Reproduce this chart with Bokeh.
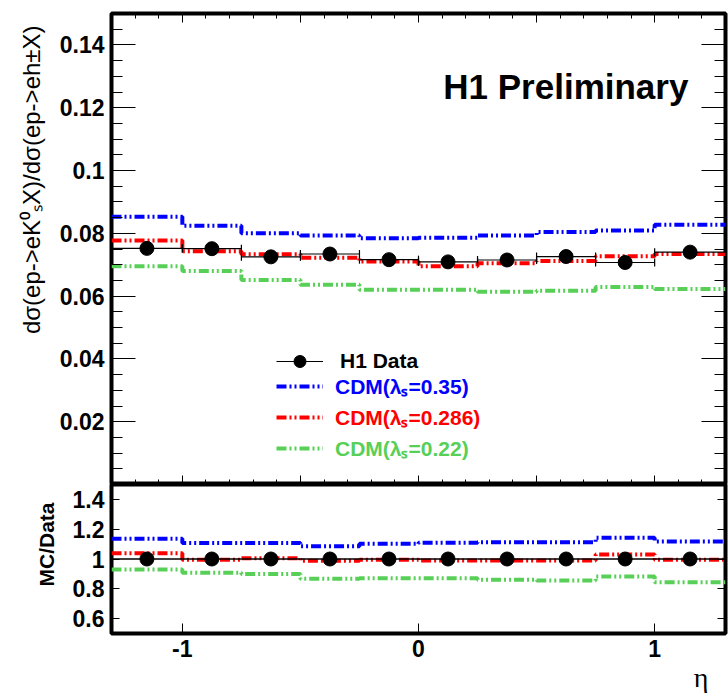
import math
from bokeh.plotting import figure
from bokeh.models import FixedTicker, LinearAxis, Label, Legend, LegendItem, Title
from bokeh.layouts import column
from bokeh.embed import file_html
from bokeh.resources import INLINE

# ---------------- data ----------------
bin_edges = [-1.3, -1.0, -0.75, -0.5, -0.25, 0.0, 0.25, 0.5, 0.75, 1.0, 1.3]
eta_centers = [-1.15, -0.875, -0.625, -0.375, -0.125, 0.125, 0.375, 0.625, 0.875, 1.15]

h1_data = [0.0752, 0.0751, 0.0725, 0.0734, 0.0716, 0.0709, 0.0715, 0.0726, 0.0707, 0.0740]
cdm_035 = [0.0853, 0.0824, 0.0800, 0.0793, 0.0784, 0.0786, 0.0793, 0.0804, 0.0809, 0.0827]
cdm_0286 = [0.0777, 0.0743, 0.0733, 0.0722, 0.0710, 0.0695, 0.0705, 0.0712, 0.0727, 0.0734]
cdm_022 = [0.0695, 0.0680, 0.0651, 0.0636, 0.0620, 0.0620, 0.0614, 0.0617, 0.0629, 0.0623]

ratio_data = [1.0, 1.0, 1.0, 1.0, 1.0, 1.0, 1.0, 1.0, 1.0, 1.0]
ratio_035 = [1.136, 1.107, 1.107, 1.086, 1.102, 1.109, 1.113, 1.113, 1.143, 1.118]
ratio_0286 = [1.039, 0.995, 1.005, 0.988, 0.995, 0.990, 0.990, 0.990, 1.030, 0.995]
ratio_022 = [0.929, 0.907, 0.900, 0.867, 0.871, 0.871, 0.860, 0.855, 0.882, 0.844]

top_yticks = [0.02, 0.04, 0.06, 0.08, 0.1, 0.12, 0.14]
top_ytick_labels = ["0.02", "0.04", "0.06", "0.08", "0.1", "0.12", "0.14"]
top_yminor = [0.005 * i for i in range(1, 30)]
top_xticks = [-1.0, -0.5, 0.0, 0.5, 1.0]
top_xminor = [round(-1.2 + 0.1 * i, 2) for i in range(25)]
ratio_yticks = [0.6, 0.8, 1.0, 1.2, 1.4]
ratio_ytick_labels = ["0.6", "0.8", "1", "1.2", "1.4"]
ratio_xticks = [-1.0, 0.0, 1.0]
ratio_xtick_labels = ["-1", "0", "1"]

legend_labels = ["H1 Data", "CDM(λₛ=0.35)", "CDM(λₛ=0.286)", "CDM(λₛ=0.22)"]
y_title_top = "dσ(ep->eK⁰ₛX)/dσ(ep->eh±X)"
y_title_ratio = "MC/Data"
x_title = "η"

# ---------------- style ----------------
FONT = "Liberation Sans"
BLUE = "#0000ff"
RED = "#ff0000"
GREEN = "#58d058"
DASH = "10 3 2 3 2 3"
LW = 4

lo = bin_edges[:-1]
hi = bin_edges[1:]


def style_axis(ax, ticks, minor, labels=None, tin=24, minor_in=11, show=True, size="22px"):
    ax.ticker = FixedTicker(ticks=ticks, minor_ticks=minor)
    ax.major_tick_in = tin
    ax.major_tick_out = 0
    ax.minor_tick_in = minor_in
    ax.minor_tick_out = 0
    ax.major_tick_line_color = "black"
    ax.minor_tick_line_color = "black"
    ax.major_tick_line_width = 1
    ax.axis_line_color = None
    if show:
        ax.major_label_text_font = FONT
        ax.major_label_text_font_style = "bold"
        ax.major_label_text_font_size = size
        ax.major_label_text_color = "black"
        if labels is not None:
            ax.major_label_overrides = {t: l for t, l in zip(ticks, labels)}
    else:
        ax.major_label_overrides = {t: "" for t in ticks}
        ax.major_label_text_font_size = "0px"
        ax.major_label_standoff = 0


def steps(vals):
    return vals + [vals[-1]]


# ---------------- top panel ----------------
top = figure(width=728, height=484, x_range=(-1.3, 1.3), y_range=(0.0, 0.15),
             output_backend="svg", toolbar_location=None,
             min_border_left=111, min_border_right=3, min_border_top=13, min_border_bottom=0)
top.xgrid.visible = False
top.ygrid.visible = False
top.outline_line_color = "black"
top.outline_line_width = 4
top.background_fill_color = "white"
top.border_fill_color = "white"

style_axis(top.yaxis[0], top_yticks, top_yminor, top_ytick_labels, tin=24, minor_in=11, size="23px")
top.yaxis[0].major_label_standoff = 7
top.add_layout(LinearAxis(), "right")
style_axis(top.right[0], top_yticks, top_yminor, tin=24, minor_in=11, show=False)
style_axis(top.xaxis[0], top_xticks, top_xminor, tin=9, minor_in=5, show=False)
top.add_layout(LinearAxis(), "above")
style_axis(top.above[0], top_xticks, top_xminor, tin=9, minor_in=5, show=False)

r_b = top.step(x=bin_edges, y=steps(cdm_035), mode="after", line_color=BLUE, line_width=LW, line_dash=DASH)
r_r = top.step(x=bin_edges, y=steps(cdm_0286), mode="after", line_color=RED, line_width=LW, line_dash=DASH)
r_g = top.step(x=bin_edges, y=steps(cdm_022), mode="after", line_color=GREEN, line_width=LW, line_dash=DASH)

r_err = top.segment(x0=lo, y0=h1_data, x1=hi, y1=h1_data, line_color="black", line_width=1.2)
top.scatter(x=lo, y=h1_data, marker="dash", angle=math.pi / 2, size=8, line_color="black", line_width=1.2)
top.scatter(x=hi, y=h1_data, marker="dash", angle=math.pi / 2, size=8, line_color="black", line_width=1.2)
r_pts = top.scatter(x=eta_centers, y=h1_data, marker="circle", size=14, fill_color="black", line_color="black")

top.add_layout(Label(x=0.105, y=0.1267, text="H1 Preliminary", text_font=FONT,
                     text_font_style="bold", text_font_size="35px", text_align="left",
                     text_baseline="alphabetic", text_color="black"))
top.add_layout(Title(text=y_title_top, align="right", offset=12, standoff=24,
                     text_font=FONT, text_font_style="normal", text_font_size="24px",
                     text_color="black"), "left")

legend_specs = [
    (legend_labels[0], [r_err, r_pts], "black", 30, 108, 17),
    (legend_labels[1], [r_b], BLUE, 20, 84, 12),
    (legend_labels[2], [r_r], RED, 20, 53, 12),
    (legend_labels[3], [r_g], GREEN, 20, 22, 12),
]
for lab, rends, col, gh, vy, standoff in legend_specs:
    lg = Legend(items=[LegendItem(label=lab, renderers=rends)], location=(165, vy),
                glyph_width=47, glyph_height=gh, label_height=gh, padding=0, margin=0,
                spacing=0, label_standoff=standoff, border_line_color=None,
                background_fill_alpha=0, label_text_font=FONT, label_text_font_style="bold",
                label_text_font_size="21px", label_text_color=col)
    top.add_layout(lg, "center")

# ---------------- ratio panel ----------------
bot = figure(width=728, height=213, x_range=top.x_range, y_range=(0.5, 1.5),
             output_backend="svg", toolbar_location=None,
             min_border_left=111, min_border_right=3, min_border_top=0, min_border_bottom=64)
bot.xgrid.visible = False
bot.ygrid.visible = False
bot.outline_line_color = "black"
bot.outline_line_width = 4
bot.background_fill_color = "white"
bot.border_fill_color = "white"

style_axis(bot.yaxis[0], ratio_yticks, [], ratio_ytick_labels, tin=8, minor_in=0, size="23px")
bot.yaxis[0].major_label_standoff = 7
bot.add_layout(LinearAxis(), "right")
style_axis(bot.right[0], ratio_yticks, [], tin=8, minor_in=0, show=False)
style_axis(bot.xaxis[0], ratio_xticks, [], ratio_xtick_labels, tin=10, minor_in=0, size="23px")
bot.xaxis[0].major_label_standoff = 6

bot.step(x=bin_edges, y=steps(ratio_035), mode="after", line_color=BLUE, line_width=LW, line_dash=DASH)
bot.step(x=bin_edges, y=steps(ratio_0286), mode="after", line_color=RED, line_width=LW, line_dash=DASH)
bot.step(x=bin_edges, y=steps(ratio_022), mode="after", line_color=GREEN, line_width=LW, line_dash=DASH)
bot.segment(x0=lo, y0=ratio_data, x1=hi, y1=ratio_data, line_color="black", line_width=1.5)
bot.scatter(x=eta_centers, y=ratio_data, marker="circle", size=14, fill_color="black", line_color="black")

bot.add_layout(Title(text=y_title_ratio, align="right", offset=18, standoff=24,
                     text_font=FONT, text_font_style="bold", text_font_size="21px",
                     text_color="black"), "left")
bot.add_layout(Title(text=x_title, align="right", offset=17, standoff=0,
                     text_font="Liberation Serif", text_font_style="normal", text_font_size="28px",
                     text_color="black"), "below")

layout = column(top, bot, spacing=0)
open("out.html", "w").write(file_html(layout, INLINE))
